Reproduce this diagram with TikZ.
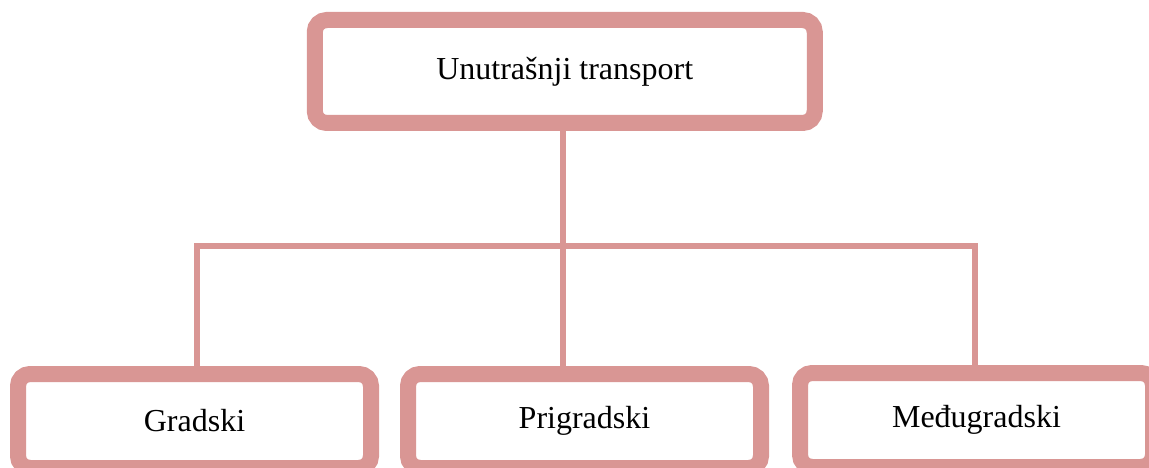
\documentclass[tikz,border=0pt]{standalone}
\usepackage{fontspec}
\setmainfont{Liberation Serif}
\definecolor{boxpink}{HTML}{D99694}
\begin{document}
\begin{tikzpicture}[x=1pt,y=-1pt,
  box/.style={draw=boxpink, line width=16pt, rounded corners=12pt, fill=white,
    inner sep=0pt, font=\fontsize{32}{38}\selectfont},
  conn/.style={draw=boxpink, line width=6pt}]
\useasboundingbox (0,0) rectangle (1149,468);
\node[box, minimum width=500pt, minimum height=103pt] (top) at (564.75,71.5) {Unutrašnji transport};
\node[box, minimum width=353pt, minimum height=94pt] (gra) at (194.5,421) {Gradski};
\node[box, minimum width=353pt, minimum height=94pt] (pri) at (584.5,421) {Prigradski};
\node[box, minimum width=353pt, minimum height=94pt] (med) at (976.5,420) {Međugradski};
\coordinate (j) at (563,245.5);
\coordinate (hl) at (197,245.5);
\coordinate (hr) at (975,245.5);
\draw[conn] (top.south -| j) -- (j |- pri.north);
\draw[conn] (hl |- gra.north) -- (hl) -- (hr) -- (hr |- med.north);
\end{tikzpicture}
\end{document}
